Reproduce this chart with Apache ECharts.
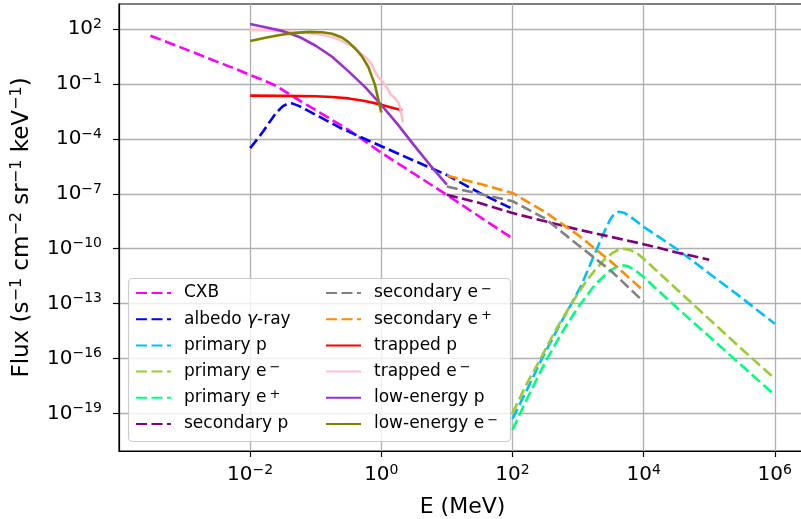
<!DOCTYPE html>
<html>
<head>
<meta charset="utf-8">
<script src="https://cdn.jsdelivr.net/npm/echarts@6/dist/echarts.min.js"></script>
<style>
  html, body { margin: 0; padding: 0; background: #ffffff; }
  #chart { width: 801px; height: 519px; }
</style>
</head>
<body>
<div id="chart"></div>
<script>
// Each point is [log10 E (MeV), log10 Flux (s^-1 cm^-2 sr^-1 keV^-1)]
const cxb = [[-3.52,1.65],[-3.0,0.93],[-2.5,0.22],[-2.2,-0.2],[-2.0,-0.5],[-1.8,-0.78],[-1.6,-1.1],[-1.4,-1.55],[-1.2,-2.0],[-1.0,-2.42],[-0.5,-3.5],[0.0,-4.75],[0.5,-5.9],[1.0,-7.06],[1.5,-8.25],[2.0,-9.43]];
const albedoGamma = [[-2.0,-4.5],[-1.9,-4.05],[-1.8,-3.58],[-1.7,-3.05],[-1.6,-2.55],[-1.5,-2.2],[-1.43,-2.07],[-1.36,-2.05],[-1.25,-2.2],[-1.12,-2.45],[-0.62,-3.4],[-0.11,-4.22],[0.3,-4.87],[0.7,-5.5],[1.0,-5.97],[1.5,-6.95],[2.0,-7.82]];
const primaryP = [[2.0,-19.3],[2.25,-17.5],[2.45,-16.0],[2.7,-14.3],[2.9,-13.0],[3.05,-12.0],[3.24,-10.4],[3.39,-9.15],[3.49,-8.4],[3.55,-8.1],[3.62,-7.98],[3.7,-8.03],[3.8,-8.25],[4.0,-8.8],[4.5,-10.0],[5.0,-11.35],[5.5,-12.7],[6.0,-14.1]];
const primaryEm = [[2.0,-19.0],[2.2,-17.5],[2.43,-16.0],[2.65,-14.5],[2.9,-13.0],[3.1,-11.9],[3.25,-11.2],[3.4,-10.6],[3.5,-10.3],[3.6,-10.08],[3.68,-10.0],[3.78,-10.05],[3.9,-10.25],[4.0,-10.55],[4.5,-12.2],[5.0,-13.85],[5.5,-15.5],[6.0,-17.1]];
const primaryEp = [[2.0,-19.9],[2.25,-18.0],[2.5,-16.2],[2.75,-14.6],[3.0,-13.2],[3.25,-12.0],[3.45,-11.3],[3.58,-11.0],[3.67,-10.9],[3.76,-10.95],[3.88,-11.2],[4.0,-11.55],[4.5,-13.2],[5.0,-14.8],[5.5,-16.4],[6.0,-18.0]];
const secondaryP = [[1.0,-7.05],[1.5,-7.5],[2.0,-8.05],[2.5,-8.5],[3.0,-8.95],[3.5,-9.35],[4.0,-9.75],[4.5,-10.2],[5.0,-10.6]];
const secondaryEm = [[1.0,-6.6],[1.5,-7.0],[2.0,-7.4],[2.5,-8.35],[3.0,-9.8],[3.5,-11.2],[4.0,-12.9]];
const secondaryEp = [[1.0,-6.0],[1.5,-6.45],[2.0,-6.95],[2.5,-8.0],[3.0,-9.25],[3.5,-10.7],[4.0,-12.3]];
const trappedP = [[-2.0,-1.63],[-1.5,-1.64],[-1.0,-1.66],[-0.75,-1.7],[-0.5,-1.78],[-0.25,-1.92],[0.0,-2.12],[0.15,-2.27],[0.32,-2.43]];
const trappedE = [[-2.0,1.97],[-1.7,1.93],[-1.4,1.87],[-1.1,1.78],[-0.9,1.7],[-0.75,1.58],[-0.62,1.4],[-0.52,1.2],[-0.45,1.1],[-0.38,0.95],[-0.3,0.62],[-0.22,0.4],[-0.15,0.1],[-0.1,-0.3],[-0.05,-0.6],[0.02,-0.85],[0.08,-1.15],[0.14,-1.55],[0.2,-1.75],[0.26,-2.0],[0.3,-2.5],[0.33,-3.1]];
const lowEnergyP = [[-2.0,2.29],[-1.75,2.1],[-1.5,1.9],[-1.25,1.58],[-1.0,1.1],[-0.75,0.5],[-0.5,-0.3],[-0.25,-1.15],[0.0,-2.14],[0.25,-3.2],[0.5,-4.35],[0.75,-5.45],[1.0,-6.5]];
const lowEnergyE = [[-2.0,1.36],[-1.75,1.55],[-1.5,1.72],[-1.25,1.82],[-1.1,1.86],[-0.9,1.84],[-0.75,1.76],[-0.6,1.55],[-0.5,1.3],[-0.4,0.95],[-0.3,0.55],[-0.2,-0.05],[-0.1,-1.0],[0.0,-2.55]];

const seriesNames = ['CXB', 'albedo γ-ray', 'primary p', 'primary e⁻', 'primary e⁺', 'secondary p',
                     'secondary e⁻', 'secondary e⁺', 'trapped p', 'trapped e⁻', 'low-energy p', 'low-energy e⁻'];
const seriesPoints = [cxb, albedoGamma, primaryP, primaryEm, primaryEp, secondaryP,
                      secondaryEm, secondaryEp, trappedP, trappedE, lowEnergyP, lowEnergyE];
const seriesColors = ['#ff00ff', '#0000ff', '#00bfff', '#9acd32', '#00ff7f', '#800080',
                      '#808080', '#ff8c00', '#ff0000', '#ffc0cb', '#9932cc', '#808000'];
const seriesDashed = [true, true, true, true, true, true, true, true, false, false, false, false];

// Axis ranges and decade ticks, as exponents of 10
const xRange = [-4.0, 6.476];
const yRange = [-21.06, 3.383];
const xTickExp = [-2, 0, 2, 4, 6];
const yTickExp = [2, -1, -4, -7, -10, -13, -16, -19];

const FONT = 'DejaVu Sans';
const pow10 = e => Math.pow(10, e);

function decadeLabel(value) {
  const e = Math.round(Math.log10(value));
  return '10{sup|' + (e < 0 ? '\u2212' + (-e) : String(e)) + '}';
}
function richLegend(name) {
  return name.replace('⁻', '{sup|\u2212}').replace('⁺', '{sup|+}').replace('γ', '{it|γ}');
}

const tickRich = {
  sup: { fontFamily: FONT, fontSize: 14, lineHeight: 14, verticalAlign: 'top', color: '#000' }
};
const nameRich = {
  sup: { fontFamily: FONT, fontSize: 16, lineHeight: 16, verticalAlign: 'top', color: '#000' }
};

const series = seriesNames.map((name, i) => ({
  name: name,
  type: 'line',
  data: seriesPoints[i].map(p => [pow10(p[0]), pow10(p[1])]),
  symbol: 'none',
  smooth: false,
  lineStyle: {
    color: seriesColors[i],
    width: 2.6,
    type: seriesDashed[i] ? [11, 4.5] : 'solid',
    join: 'round'
  },
  itemStyle: { color: seriesColors[i] },
  emphasis: { disabled: true },
  animation: false
}));

const legendBase = {
  orient: 'vertical',
  padding: 0,
  itemWidth: 35,
  itemHeight: 20,
  itemGap: 6.2,
  top: 283,
  selectedMode: false,
  formatter: richLegend,
  itemStyle: { opacity: 0 },
  textStyle: {
    fontFamily: FONT,
    fontSize: 17,
    lineHeight: 20,
    color: '#000',
    padding: [0, 0, 0, 8],
    rich: {
      sup: { fontFamily: FONT, fontSize: 13, lineHeight: 12, verticalAlign: 'top', color: '#000',
             padding: [0, 0, 0, 3] },
      it: { fontFamily: FONT, fontSize: 17, fontStyle: 'italic', color: '#000' }
    }
  }
};

const chart = echarts.init(document.getElementById('chart'), null, { renderer: 'canvas' });
chart.setOption({
  backgroundColor: '#ffffff',
  animation: false,
  grid: {
    left: 119, top: 4, right: -5, bottom: 68,
    outerBoundsMode: 'none',
    containLabel: false,
    show: true, borderColor: '#000', borderWidth: 1.2, backgroundColor: 'transparent'
  },
  xAxis: {
    type: 'log',
    logBase: 10,
    min: pow10(xRange[0]),
    max: pow10(xRange[1]),
    name: 'E (MeV)',
    nameLocation: 'middle',
    nameGap: 45,
    nameTextStyle: { fontFamily: FONT, fontSize: 22, color: '#000' },
    axisLine: { show: true, lineStyle: { color: '#000', width: 1.2 } },
    axisTick: { show: true, inside: false, length: 6, lineStyle: { color: '#000', width: 1.2 },
                customValues: xTickExp.map(pow10) },
    minorTick: { show: false },
    axisLabel: { fontFamily: FONT, fontSize: 20, color: '#000', margin: 12, lineHeight: 24,
                 formatter: decadeLabel, rich: tickRich, customValues: xTickExp.map(pow10) },
    splitLine: { show: true, lineStyle: { color: '#b0b0b0', width: 1.3 } }
  },
  yAxis: {
    type: 'log',
    logBase: 10,
    min: pow10(yRange[0]),
    max: pow10(yRange[1]),
    name: 'Flux (s{sup|\u22121} cm{sup|\u22122} sr{sup|\u22121} keV{sup|\u22121})',
    nameLocation: 'middle',
    nameGap: 84,
    nameTextStyle: { fontFamily: FONT, fontSize: 23, color: '#000', lineHeight: 26, rich: nameRich },
    axisLine: { show: true, lineStyle: { color: '#000', width: 1.2 } },
    axisTick: { show: true, inside: false, length: 6, lineStyle: { color: '#000', width: 1.2 },
                customValues: yTickExp.map(pow10) },
    minorTick: { show: false },
    axisLabel: { fontFamily: FONT, fontSize: 20, color: '#000', margin: 17, lineHeight: 24,
                 formatter: decadeLabel, rich: tickRich, customValues: yTickExp.map(pow10) },
    splitLine: { show: true, lineStyle: { color: '#b0b0b0', width: 1.3 } }
  },
  legend: [
    Object.assign({}, legendBase, { left: 135, data: seriesNames.slice(0, 6) }),
    Object.assign({}, legendBase, { left: 325, data: seriesNames.slice(6) })
  ],
  graphic: [{
    type: 'rect',
    z: 3,
    shape: { x: 128.5, y: 278.5, width: 382, height: 163, r: 4 },
    style: { fill: 'rgba(255,255,255,0.8)', stroke: '#cccccc', lineWidth: 1.2 }
  }],
  series: series
});
</script>
</body>
</html>
